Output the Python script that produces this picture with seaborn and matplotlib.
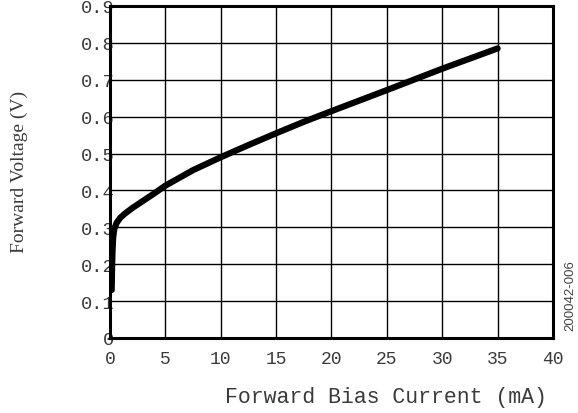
import matplotlib
matplotlib.use("Agg")
import matplotlib.pyplot as plt
import seaborn as sns
import pandas as pd

current_ma = [0.15, 0.18, 0.22, 0.28, 0.38, 0.6, 0.9, 1.3, 2.0, 3.0, 4.0, 5.0, 7.5, 10, 12.5, 15, 17.5, 20, 25, 30, 35]
forward_v = [0.13, 0.18, 0.23, 0.27, 0.295, 0.312, 0.325, 0.336, 0.352, 0.372, 0.392, 0.413, 0.455, 0.49, 0.523, 0.555, 0.586, 0.615, 0.672, 0.73, 0.785]
x_ticks = [0, 5, 10, 15, 20, 25, 30, 35, 40]
y_ticks = [0, 0.1, 0.2, 0.3, 0.4, 0.5, 0.6, 0.7, 0.8, 0.9]
y_tick_labels = ["0", "0.1", "0.2", "0.3", "0.4", "0.5", "0.6", "0.7", "0.8", "0.9"]

df = pd.DataFrame({"I": current_ma, "V": forward_v})

sns.set_style("white")
fig = plt.figure(figsize=(5.78, 4.14), dpi=100)
ax = fig.add_axes([0.1903, 0.1812, 0.7664, 0.8019])

sns.lineplot(data=df, x="I", y="V", ax=ax, color="black", linewidth=4.5,
             sort=False, solid_capstyle="round")

ax.set_xlim(0, 40)
ax.set_ylim(0, 0.9)
ax.set_xticks(x_ticks)
ax.set_yticks(y_ticks)
ax.set_xticklabels([str(t) for t in x_ticks], family="Liberation Mono", fontsize=13, color="#3a3a3a")
ax.set_yticklabels(y_tick_labels, family="Liberation Mono", fontsize=13.5, color="#3a3a3a")
ax.tick_params(axis="both", length=0)
ax.tick_params(axis="x", pad=9)
ax.tick_params(axis="y", pad=-3)
ax.grid(True, color="black", linewidth=1.0)
ax.set_axisbelow(True)
for s in ax.spines.values():
    s.set_visible(True)
    s.set_color("black")
    s.set_linewidth(2.2)

ax.set_xlabel("Forward Bias Current (mA)", family="Liberation Mono", fontsize=15.5,
              color="#3a3a3a", va="center")
ax.xaxis.set_label_coords(0.622, -0.175)
ax.set_ylabel("")
fig.text(0.033, 0.585, "Forward Voltage (V)", rotation=90, ha="center", va="center",
         family="Liberation Serif", fontsize=14, color="#3a3a3a")
fig.text(0.986, 0.287, "200042-006", rotation=90, ha="center", va="center",
         family="Liberation Sans", fontsize=9.5, color="#444444")

fig.savefig("out.png", dpi=100)
